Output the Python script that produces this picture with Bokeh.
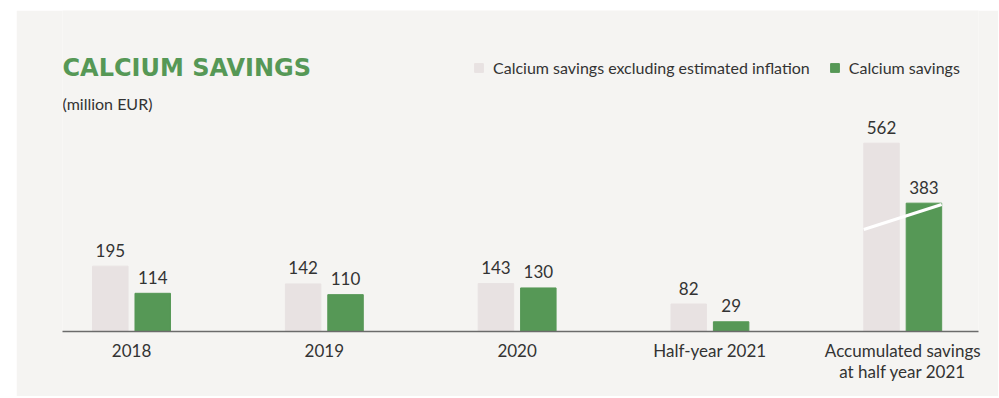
from bokeh.plotting import figure
from bokeh.models import ColumnDataSource, FixedTicker, Label, Legend, LegendItem, Range1d
from bokeh.core.properties import value
from bokeh.embed import file_html
from bokeh.resources import INLINE

# ---- data ----
categories = ["2018", "2019", "2020", "Half-year 2021", "Accumulated savings\nat half year 2021"]
excl_inflation = [195, 142, 143, 82, 562]
savings = [114, 110, 130, 29, 383]
legend_labels = ["Calcium savings excluding estimated inflation", "Calcium savings"]
title_text = "CALCIUM SAVINGS"
unit_text = "(million EUR)"

GREEN = "#569856"
GREY = "#e8e2e2"
PANEL = "#f5f4f2"
TEXT = "#333333"
FONT = "Lato"

idx = list(range(len(categories)))
off = 0.11
bw = 0.184

src_a = ColumnDataSource(dict(x=[i - off for i in idx], top=excl_inflation,
                              lbl=[str(v) for v in excl_inflation]))
src_b = ColumnDataSource(dict(x=[i + off for i in idx], top=savings,
                              lbl=[str(v) for v in savings]))

p = figure(width=982, height=386, output_backend="svg", toolbar_location=None,
           x_range=Range1d(-0.358, 4.393), y_range=Range1d(0, 958),
           y_axis_location=None, min_border_left=46, min_border_right=20,
           min_border_top=0, min_border_bottom=65)
p.margin = (10, 1, 2, 16)
p.background_fill_color = PANEL
p.border_fill_color = PANEL
p.outline_line_color = None
p.grid.visible = False

ra = p.vbar(x="x", top="top", width=bw, source=src_a, color=GREY)
rb = p.vbar(x="x", top="top", width=bw, source=src_b, color=GREEN)

# axis break decoration across the accumulated pair
last = len(categories) - 1
p.segment(x0=[last - off - bw / 2], y0=[savings[last] * 0.795],
          x1=[last + off + bw / 2], y1=[savings[last] * 0.99],
          line_color="white", line_width=3)

for s in (src_a, src_b):
    p.text(x="x", y="top", text="lbl", source=s, text_align="center",
           text_baseline="alphabetic", y_offset=-16,
           text_font=value(FONT), text_font_size="17px", text_color=TEXT)

ax = p.xaxis[0]
ax.ticker = FixedTicker(ticks=idx)
ax.major_label_overrides = {i: c for i, c in zip(idx, categories)}
ax.major_tick_line_color = None
ax.minor_tick_line_color = None
ax.axis_line_color = "#6b6b6b"
ax.axis_line_width = 1.5
ax.major_label_standoff = 2
ax.major_label_text_font = FONT
ax.major_label_text_font_size = "17px"
ax.major_label_text_color = TEXT
ax.major_label_text_line_height = 1.0

p.add_layout(Label(x=0, y=264, x_units="screen", y_units="screen", text=title_text,
                   text_font="DejaVu Sans", text_font_style="bold",
                   text_font_size="24px", text_color=GREEN, text_baseline="alphabetic"))
p.add_layout(Label(x=0, y=228, x_units="screen", y_units="screen", text=unit_text,
                   text_font=FONT, text_font_size="16px", text_color=TEXT,
                   text_baseline="alphabetic"))

legend = Legend(items=[LegendItem(label=legend_labels[0], renderers=[ra]),
                       LegendItem(label=legend_labels[1], renderers=[rb])],
                orientation="horizontal", location=(411, 254),
                glyph_width=11, glyph_height=11, label_standoff=9, spacing=19,
                padding=0, margin=0, border_line_color=None, background_fill_alpha=0,
                label_text_font=FONT, label_text_font_size="16px",
                label_text_color=TEXT, label_height=11)
p.add_layout(legend)

open("out.html", "w").write(file_html(p, INLINE))
